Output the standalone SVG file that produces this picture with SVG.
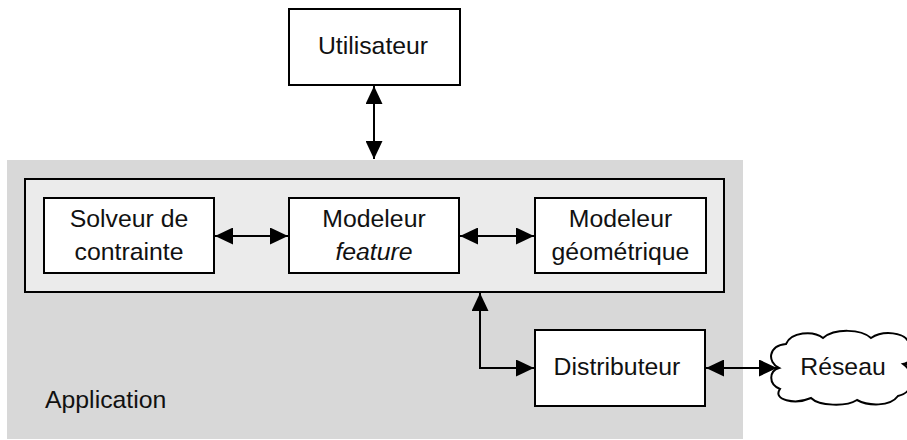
<svg xmlns="http://www.w3.org/2000/svg" width="907" height="440" viewBox="0 0 907 440">
  <style>
    .box { fill: #ffffff; stroke: #000000; stroke-width: 2; }
    .frame { fill: #ebebeb; stroke: #000000; stroke-width: 2; }
    .label { font-family: "Liberation Sans", Arial, Helvetica, sans-serif; font-size: 24.8px; fill: #111111; text-anchor: middle; }
    .link { fill: none; stroke: #000000; stroke-width: 2; marker-start: url(#arrow); marker-end: url(#arrow); }
  </style>
  <defs>
    <marker id="arrow" markerUnits="userSpaceOnUse" markerWidth="19" markerHeight="17" refX="18" refY="8.5" orient="auto-start-reverse">
      <path d="M0,0 L18,8.5 L0,17 Z" fill="#000000"/>
    </marker>
  </defs>

  <!-- application area -->
  <g id="application">
    <rect x="7" y="160" width="736" height="279" fill="#d8d8d8"/>
    <rect class="frame" x="25" y="179" width="699" height="113"/>
    <text class="label" x="45" y="408" style="text-anchor:start">Application</text>
  </g>

  <g id="utilisateur">
    <rect class="box" x="289" y="9" width="171" height="76"/>
    <text class="label" x="373" y="54">Utilisateur</text>
  </g>

  <g id="solveur">
    <rect class="box" x="44" y="198" width="170" height="75"/>
    <text class="label" x="129" y="227">Solveur de</text>
    <text class="label" x="129" y="260">contrainte</text>
  </g>

  <g id="modeleur-feature">
    <rect class="box" x="289" y="198" width="170" height="75"/>
    <text class="label" x="374" y="227">Modeleur</text>
    <text class="label" x="374" y="260" font-style="italic">feature</text>
  </g>

  <g id="modeleur-geometrique">
    <rect class="box" x="535" y="198" width="171" height="75"/>
    <text class="label" x="620.5" y="227">Modeleur</text>
    <text class="label" x="620.5" y="260">géométrique</text>
  </g>

  <g id="distributeur">
    <rect class="box" x="535" y="330" width="170" height="76"/>
    <text class="label" x="617" y="375">Distributeur</text>
  </g>

  <g id="reseau">
    <path class="box" d="M779,368
      C767,362 768,346 786,344
      C791,332 813,330 823,338
      C835,328 861,329 871,338
      C883,330 905,332 909,343
      C919,346 917,360 903,364
      C916,373 914,393 898,396
      C890,407 868,406 857,400
      C846,407 819,406 811,398
      C795,405 772,400 780,389
      C768,384 769,371 779,368 Z"/>
    <text class="label" x="843" y="375">Réseau</text>
  </g>

  <g id="connectors">
    <line class="link" x1="374" y1="86" x2="374" y2="159"/>
    <line class="link" x1="215" y1="236" x2="288" y2="236"/>
    <line class="link" x1="460" y1="236" x2="534" y2="236"/>
    <polyline class="link" points="480,293 480,368 534,368"/>
    <line class="link" x1="706" y1="368" x2="777" y2="368"/>
    <line x1="903" y1="364" x2="930" y2="364" stroke="#000000" stroke-width="2" marker-start="url(#arrow)"/>
  </g>
</svg>
